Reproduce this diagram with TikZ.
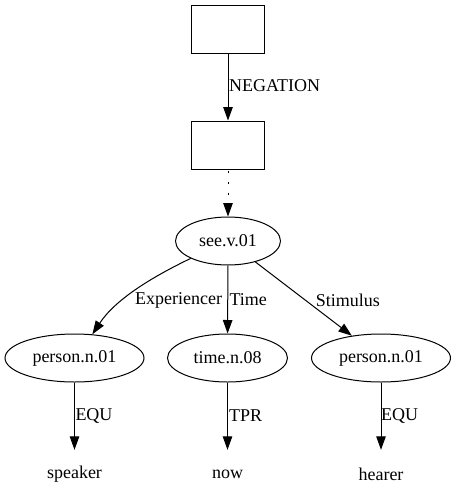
\documentclass[tikz,border=0pt]{standalone}
\usepackage{fontspec}
\setmainfont{Liberation Serif}
\usetikzlibrary{arrows.meta,shapes.geometric}
\begin{document}
\begin{tikzpicture}[x=1pt,y=-1pt,
  every node/.style={font=\fontsize{18}{21}\selectfont, inner sep=0pt},
  boxnode/.style={draw, line width=1pt, minimum width=73pt, minimum height=48pt},
  ell/.style={draw, line width=1pt, ellipse, minimum height=48pt},
  leaf/.style={minimum height=48pt},
  lbl/.style={anchor=west},
  conn/.style={line width=1pt, -{Triangle[length=13.5pt,width=9.5pt]}}]
\useasboundingbox (0,0) rectangle (456,504);
\node[boxnode] (b1) at (228,29) {};
\node[boxnode] (b2) at (228,145) {};
\node[ell, minimum width=105pt] (see) at (228,241) {see.v.01};
\node[ell, minimum width=139pt] (p1) at (74.5,358) {person.n.01};
\node[ell, minimum width=120pt] (t) at (227.5,358) {time.n.08};
\node[ell, minimum width=139pt] (p3) at (381,358) {person.n.01};
\node[leaf] (l1) at (74.5,474) {speaker};
\node[leaf] (l2) at (227.5,474) {now};
\node[leaf] (l3) at (381,474) {hearer};
\draw[conn] (b1) -- (b2);
\node[lbl] (negl) at (229,86) {NEGATION};
\draw[conn, dash pattern=on 2pt off 9pt, dash phase=-1pt] (b2) -- (see);
\draw[conn] (see.205) .. controls (150,278) and (115,300) .. (p1.53);
\node[lbl] (expl) at (135,300) {Experiencer};
\draw[conn] (see) -- (t);
\node[lbl] (timel) at (229.3,300) {Time};
\draw[conn] (see) -- (p3);
\node[lbl] (stiml) at (315.7,300) {Stimulus};
\draw[conn] (p1) -- (l1);
\node[lbl] (e1) at (75.3,416) {EQU};
\draw[conn] (t) -- (l2);
\node[lbl] (tprl) at (229,416) {TPR};
\draw[conn] (p3) -- (l3);
\node[lbl] (e3) at (381,416) {EQU};
\end{tikzpicture}
\end{document}
